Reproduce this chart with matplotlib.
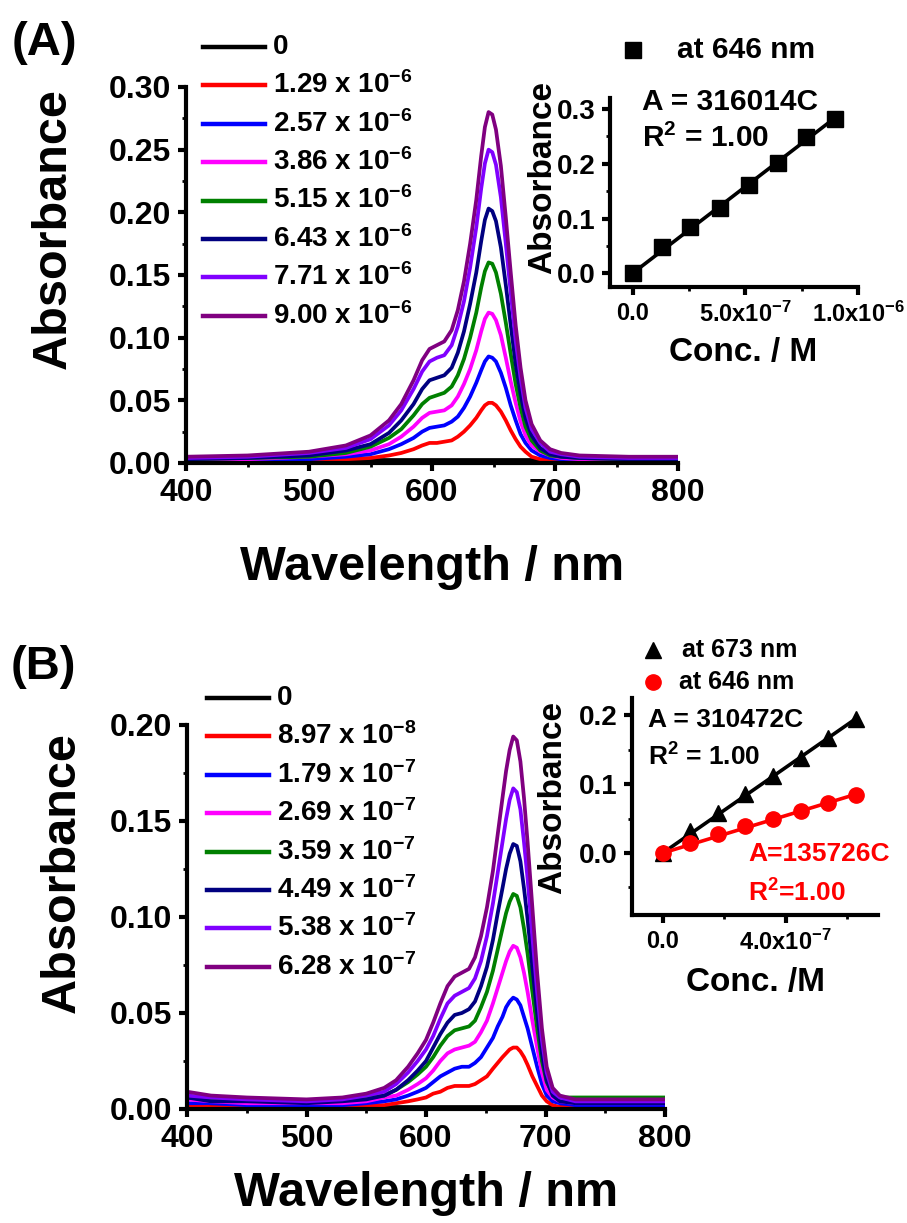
import matplotlib
matplotlib.use('Agg')
import matplotlib.pyplot as plt
from matplotlib.lines import Line2D
from matplotlib.ticker import MultipleLocator, FixedLocator

plt.rcParams['font.family'] = ['Liberation Sans', 'DejaVu Sans']
plt.rcParams['font.weight'] = 'bold'
plt.rcParams['mathtext.fontset'] = 'custom'
plt.rcParams['mathtext.rm'] = 'Liberation Sans:bold'
plt.rcParams['mathtext.bf'] = 'Liberation Sans:bold'
plt.rcParams['mathtext.default'] = 'bf'

COLORS = ['#000000', '#ff0000', '#0000ff', '#ff00ff', '#008000', '#000080', '#8000ff', '#800080']

# ---- panel A: spectra, peak at 646 nm ----
wl_a = [400, 450, 500, 530, 550, 565, 575, 585, 592, 598, 604, 610, 616, 621, 626, 631, 636, 640,
        643, 646, 649, 652, 656, 660, 664, 668, 672, 676, 681, 688, 696, 705, 720, 760, 800]
labels_a = ['0', '1.29 x 10$^{-6}$', '2.57 x 10$^{-6}$', '3.86 x 10$^{-6}$', '5.15 x 10$^{-6}$',
            '6.43 x 10$^{-6}$', '7.71 x 10$^{-6}$', '9.00 x 10$^{-6}$']
abs_a = [
    [0.002] * 35,
    [0.001, 0.001, 0.002, 0.003, 0.004, 0.006, 0.008, 0.011, 0.014, 0.016, 0.016, 0.017, 0.018, 0.021,
     0.025, 0.030, 0.036, 0.042, 0.046, 0.048, 0.048, 0.046, 0.041, 0.034, 0.026, 0.019, 0.013, 0.009,
     0.005, 0.003, 0.002, 0.002, 0.001, 0.001, 0.001],
    [0.002, 0.002, 0.003, 0.005, 0.007, 0.011, 0.015, 0.020, 0.025, 0.028, 0.029, 0.030, 0.033, 0.037,
     0.044, 0.053, 0.064, 0.074, 0.081, 0.085, 0.084, 0.081, 0.072, 0.060, 0.046, 0.034, 0.023, 0.016,
     0.010, 0.006, 0.004, 0.003, 0.002, 0.002, 0.002],
    [0.003, 0.003, 0.005, 0.007, 0.010, 0.015, 0.021, 0.029, 0.036, 0.040, 0.041, 0.042, 0.046, 0.053,
     0.063, 0.075, 0.090, 0.105, 0.115, 0.120, 0.119, 0.114, 0.102, 0.084, 0.065, 0.048, 0.033, 0.022,
     0.014, 0.009, 0.006, 0.004, 0.003, 0.003, 0.003],
    [0.003, 0.004, 0.005, 0.008, 0.013, 0.020, 0.027, 0.038, 0.047, 0.052, 0.054, 0.056, 0.061, 0.070,
     0.083, 0.100, 0.120, 0.140, 0.153, 0.160, 0.159, 0.152, 0.135, 0.112, 0.087, 0.063, 0.044, 0.029,
     0.018, 0.010, 0.006, 0.005, 0.004, 0.003, 0.003],
    [0.003, 0.004, 0.006, 0.010, 0.015, 0.024, 0.034, 0.047, 0.059, 0.066, 0.068, 0.070, 0.076, 0.088,
     0.105, 0.127, 0.152, 0.177, 0.194, 0.203, 0.201, 0.193, 0.172, 0.142, 0.110, 0.079, 0.055, 0.036,
     0.022, 0.012, 0.007, 0.005, 0.004, 0.003, 0.003],
    [0.004, 0.005, 0.008, 0.012, 0.019, 0.030, 0.042, 0.059, 0.073, 0.081, 0.084, 0.086, 0.094, 0.109,
     0.129, 0.156, 0.188, 0.219, 0.239, 0.250, 0.248, 0.238, 0.212, 0.175, 0.136, 0.098, 0.068, 0.044,
     0.027, 0.016, 0.009, 0.007, 0.005, 0.004, 0.004],
    [0.005, 0.006, 0.009, 0.014, 0.022, 0.034, 0.047, 0.066, 0.082, 0.091, 0.094, 0.097, 0.106, 0.122,
     0.145, 0.175, 0.210, 0.245, 0.268, 0.280, 0.278, 0.266, 0.237, 0.196, 0.152, 0.110, 0.076, 0.050,
     0.031, 0.018, 0.011, 0.008, 0.006, 0.005, 0.005],
]
conc_a = [0, 1.29e-7, 2.57e-7, 3.86e-7, 5.15e-7, 6.43e-7, 7.71e-7, 9.00e-7]
abs646_a = [0.0, 0.048, 0.085, 0.120, 0.161, 0.202, 0.248, 0.281]
slope_a = 316014

# ---- panel B: spectra, peak at 673 nm ----
wl_b = [400, 420, 450, 500, 530, 550, 565, 575, 585, 593, 600, 606, 612, 618, 624, 630, 636, 641, 646, 651,
        656, 660, 664, 667, 670, 673, 676, 679, 682, 685, 689, 693, 697, 701, 706, 712, 725, 760, 800]
labels_b = ['0', '8.97 x 10$^{-8}$', '1.79 x 10$^{-7}$', '2.69 x 10$^{-7}$', '3.59 x 10$^{-7}$',
            '4.49 x 10$^{-7}$', '5.38 x 10$^{-7}$', '6.28 x 10$^{-7}$']
abs_b = [
    [0.001] * 39,
    [0.002, 0.001, 0.001, 0.001, 0.001, 0.002, 0.002, 0.003, 0.004, 0.005, 0.006, 0.008, 0.009, 0.011, 0.012,
     0.012, 0.012, 0.013, 0.015, 0.017, 0.021, 0.024, 0.027, 0.029, 0.031, 0.032, 0.032, 0.030, 0.027, 0.023,
     0.017, 0.012, 0.007, 0.004, 0.002, 0.001, 0.001, 0.001, 0.001],
    [0.003, 0.003, 0.002, 0.002, 0.002, 0.003, 0.004, 0.005, 0.007, 0.009, 0.011, 0.014, 0.017, 0.019, 0.021,
     0.022, 0.022, 0.024, 0.027, 0.032, 0.037, 0.043, 0.048, 0.053, 0.056, 0.058, 0.057, 0.054, 0.048, 0.042,
     0.032, 0.022, 0.013, 0.007, 0.004, 0.003, 0.002, 0.002, 0.002],
    [0.005, 0.004, 0.003, 0.003, 0.003, 0.004, 0.006, 0.007, 0.010, 0.013, 0.016, 0.020, 0.025, 0.029, 0.031,
     0.032, 0.033, 0.035, 0.040, 0.046, 0.055, 0.063, 0.071, 0.077, 0.082, 0.085, 0.084, 0.079, 0.071, 0.061,
     0.046, 0.032, 0.019, 0.010, 0.006, 0.004, 0.003, 0.003, 0.003],
    [0.006, 0.005, 0.005, 0.004, 0.005, 0.006, 0.007, 0.010, 0.014, 0.018, 0.022, 0.027, 0.033, 0.038, 0.041,
     0.042, 0.043, 0.046, 0.053, 0.061, 0.072, 0.083, 0.094, 0.102, 0.108, 0.112, 0.111, 0.105, 0.094, 0.081,
     0.061, 0.042, 0.025, 0.014, 0.008, 0.006, 0.006, 0.006, 0.006],
    [0.006, 0.004, 0.004, 0.003, 0.004, 0.005, 0.007, 0.010, 0.015, 0.020, 0.025, 0.032, 0.039, 0.045, 0.049,
     0.050, 0.052, 0.056, 0.064, 0.074, 0.088, 0.102, 0.115, 0.125, 0.133, 0.138, 0.137, 0.129, 0.115, 0.099,
     0.074, 0.050, 0.029, 0.015, 0.007, 0.004, 0.003, 0.003, 0.003],
    [0.007, 0.006, 0.005, 0.004, 0.005, 0.007, 0.009, 0.013, 0.019, 0.025, 0.031, 0.038, 0.047, 0.055, 0.059,
     0.061, 0.063, 0.068, 0.077, 0.090, 0.107, 0.123, 0.139, 0.151, 0.161, 0.167, 0.165, 0.156, 0.139, 0.120,
     0.090, 0.061, 0.036, 0.019, 0.009, 0.006, 0.004, 0.004, 0.004],
    [0.009, 0.007, 0.006, 0.005, 0.006, 0.008, 0.011, 0.015, 0.022, 0.029, 0.036, 0.045, 0.055, 0.064, 0.069,
     0.071, 0.073, 0.079, 0.090, 0.105, 0.124, 0.143, 0.162, 0.176, 0.187, 0.194, 0.192, 0.181, 0.162, 0.139,
     0.105, 0.071, 0.042, 0.022, 0.011, 0.007, 0.005, 0.005, 0.005],
]
conc_b = [0, 8.97e-8, 1.79e-7, 2.69e-7, 3.59e-7, 4.49e-7, 5.38e-7, 6.28e-7]
abs673_b = [0.0, 0.032, 0.058, 0.085, 0.112, 0.138, 0.167, 0.194]
abs646_b = [0.0, 0.014, 0.027, 0.039, 0.050, 0.061, 0.073, 0.084]
slope673_b = 310472
slope646_b = 135726

W, H = 907, 1223
fig = plt.figure(figsize=(W / 100, H / 100), dpi=100)


def rect(x0, y0, x1, y1):
    # pixel box (top-left origin) -> figure fraction
    return [x0 / W, 1 - y1 / H, (x1 - x0) / W, (y1 - y0) / H]


def ftext(x, y, s, **kw):
    kw.setdefault('ha', 'left')
    kw.setdefault('va', 'center')
    return fig.text(x / W, 1 - y / H, s, fontweight='bold', **kw)


def style(ax, xsize, ysize, pad):
    ax.spines['top'].set_visible(False)
    ax.spines['right'].set_visible(False)
    for s in ('left', 'bottom'):
        ax.spines[s].set_linewidth(3)
    ax.tick_params(which='major', direction='out', length=5.5, width=3, pad=pad)
    ax.tick_params(which='minor', direction='out', length=3, width=2)
    ax.tick_params(axis='x', labelsize=xsize)
    ax.tick_params(axis='y', labelsize=ysize)
    for lab in ax.get_xticklabels() + ax.get_yticklabels():
        lab.set_fontweight('bold')


def spectra_panel(box, wl, series, labels, ylim, legend_x, legend_y0):
    ax = fig.add_axes(rect(*box))
    for ys, c in zip(series, COLORS):
        ax.plot(wl, ys, color=c, lw=2.7, solid_joinstyle='round', solid_capstyle='round')
    ax.set_xlim(400, 800)
    ax.set_ylim(*ylim)
    ax.xaxis.set_major_locator(MultipleLocator(100))
    ax.xaxis.set_minor_locator(MultipleLocator(50))
    ax.yaxis.set_major_locator(MultipleLocator(0.05))
    ax.yaxis.set_minor_locator(MultipleLocator(0.025))
    ax.yaxis.set_major_formatter('{x:.2f}')
    style(ax, 23, 23, 5)
    # concentration key
    for i, (lab, c) in enumerate(zip(labels, COLORS)):
        y = legend_y0 + 38.4 * i
        fig.add_artist(Line2D([legend_x / W, (legend_x + 62) / W], [1 - y / H] * 2, color=c, lw=3.2))
        ftext(legend_x + 70, y, lab, fontsize=20)
    return ax


# ---------------- (A) ----------------
spectra_panel((186, 87, 678, 463), wl_a, abs_a, labels_a, (0, 0.30), 203, 47)
ftext(44, 43, '(A)', fontsize=34, ha='center')
ftext(53, 229, 'Absorbance', fontsize=35, ha='center', rotation=90)
ftext(432, 567, 'Wavelength / nm', fontsize=35, ha='center')

ins_a = fig.add_axes(rect(610, 98, 858, 287))
ins_a.plot(conc_a, [slope_a * c for c in conc_a], color='black', lw=2.6)
ins_a.plot(conc_a, abs646_a, ls='none', marker='s', ms=12, color='black')
ins_a.set_xlim(-1e-7, 1.0e-6)
ins_a.set_ylim(-0.025, 0.32)
ins_a.xaxis.set_major_locator(FixedLocator([0, 5e-7, 1e-6]))
ins_a.xaxis.set_minor_locator(FixedLocator([2.5e-7, 7.5e-7]))
ins_a.set_xticklabels(['0.0', '5.0x10$^{-7}$', '1.0x10$^{-6}$'])
ins_a.yaxis.set_major_locator(MultipleLocator(0.1))
ins_a.yaxis.set_minor_locator(MultipleLocator(0.05))
ins_a.yaxis.set_major_formatter('{x:.1f}')
style(ins_a, 17, 20, 5)
ftext(543, 178, 'Absorbance', fontsize=24, ha='center', rotation=90)
ftext(743, 352, 'Conc. / M', fontsize=24, ha='center')
ftext(642, 102, 'A = 316014C', fontsize=21.5)
ftext(642, 138, 'R$^2$ = 1.00', fontsize=21.5)
fig.add_artist(Line2D([633 / W], [1 - 50 / H], ls='none', marker='s', ms=12, color='black'))
ftext(677, 50, 'at 646 nm', fontsize=21.5)

# ---------------- (B) ----------------
spectra_panel((187, 725, 665, 1109), wl_b, abs_b, labels_b, (0, 0.20), 207, 698)
ftext(43, 667, '(B)', fontsize=34, ha='center')
ftext(62, 873, 'Absorbance', fontsize=35, ha='center', rotation=90)
ftext(426, 1193, 'Wavelength / nm', fontsize=35, ha='center')

ins_b = fig.add_axes(rect(632, 698, 878, 915))
ins_b.plot(conc_b, [slope673_b * c for c in conc_b], color='black', lw=2.6)
ins_b.plot(conc_b, abs673_b, ls='none', marker='^', ms=12, color='black')
ins_b.plot(conc_b, [slope646_b * c for c in conc_b], color='#ff0000', lw=2.6)
ins_b.plot(conc_b, abs646_b, ls='none', marker='o', ms=11, color='#ff0000')
ins_b.set_xlim(-1e-7, 7e-7)
ins_b.set_ylim(-0.09, 0.225)
ins_b.xaxis.set_major_locator(FixedLocator([0, 4e-7]))
ins_b.xaxis.set_minor_locator(FixedLocator([2e-7, 6e-7]))
ins_b.set_xticklabels(['0.0', '4.0x10$^{-7}$'])
ins_b.yaxis.set_major_locator(MultipleLocator(0.1))
ins_b.yaxis.set_minor_locator(MultipleLocator(0.05))
ins_b.yaxis.set_major_formatter('{x:.1f}')
style(ins_b, 17, 20, 5)
ftext(553, 797, 'Absorbance', fontsize=24, ha='center', rotation=90)
ftext(755, 982, 'Conc. /M', fontsize=24, ha='center')
ftext(648, 720, 'A = 310472C', fontsize=19)
ftext(648, 757, 'R$^2$ = 1.00', fontsize=19)
ftext(748, 854, 'A=135726C', fontsize=19, color='#ff0000')
ftext(748, 893, 'R$^2$=1.00', fontsize=19, color='#ff0000')
fig.add_artist(Line2D([653 / W], [1 - 650 / H], ls='none', marker='^', ms=12, color='black'))
ftext(682, 650, 'at 673 nm', fontsize=18)
fig.add_artist(Line2D([653 / W], [1 - 682 / H], ls='none', marker='o', ms=11, color='#ff0000'))
ftext(679, 682, 'at 646 nm', fontsize=18)

fig.savefig('out.png', dpi=100)
